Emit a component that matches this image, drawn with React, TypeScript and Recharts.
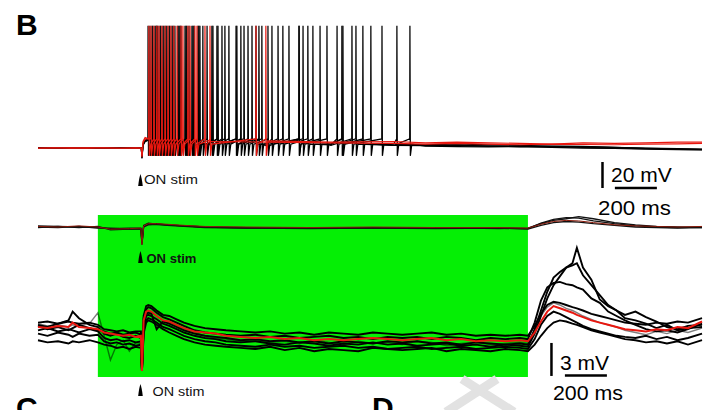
import { ComposedChart, Line, XAxis, YAxis, ReferenceArea, ReferenceLine, ReferenceDot } from "recharts"

// time in ms relative to the ON stimulus, voltages in mV
const STIM_MS = 0
const LIGHT_ON_MS = -210
const LIGHT_OFF_MS = 1838

// top panel: spike trains (B, current clamp)
const TOP_T = [-495, -420, -340, -260, -180, -100, -30, -3, 0, 5, 15, 320, 600, 900, 1200, 1350, 1500, 1650, 1800, 1950, 2100, 2250, 2400, 2550, 2667]
const TOP_K1 = [-65, -65.3, -64.8, -65.2, -65, -64.9, -65.1, -65, -72, -62, -59, -61, -61.5, -62, -61.5, -62.5, -61.8, -62.5, -63, -63.5, -63.8, -64.5, -65, -65.5, -66]
const TOP_K2 = [-64.8, -65, -65.2, -64.9, -65.1, -65, -64.8, -65, -73, -63, -60, -62, -62.5, -63, -62.5, -63, -62.8, -63.5, -64, -63.8, -64, -64.5, -65.2, -65.6, -65.8]
const TOP_K3 = [-65.1, -64.9, -65, -65.2, -64.9, -65.1, -65, -65, -72.5, -62.5, -60, -62.5, -63.5, -62.5, -63, -63.5, -64, -64.2, -63.8, -64.5, -65, -65.2, -65.8, -66.2, -66.5]
const TOP_K4 = [-65, -65.1, -64.9, -65, -65.1, -64.8, -65, -65, -72, -62, -59.5, -61.5, -62, -62, -63, -63.2, -63, -63.5, -64, -64.2, -64.6, -65, -65.5, -66, -66.3]
const TOP_R1 = [-65, -64.8, -65.1, -64.9, -65, -65.2, -64.9, -65, -72, -60, -57, -59, -59.5, -60.5, -60, -61, -60.5, -61, -61.5, -62, -61, -61.5, -61, -60.5, -60.5]
const TOP_R2 = [-65.2, -65, -64.9, -65.1, -64.8, -65, -65.1, -65, -71, -61, -58, -60, -60.5, -61, -61.5, -62, -61.5, -62, -62.5, -62, -62.3, -62.5, -62, -61.8, -61.5]

const SPIKES_K1 = [29, 52, 76, 100, 129, 157, 186, 214, 243, 267, 290, 333, 381, 448, 505, 571, 648, 748, 848, 952, 1052, 1214]
const SPIKES_K2 = [38, 67, 90, 119, 148, 176, 210, 238, 276, 310, 357, 414, 471, 524, 600, 671, 767, 881, 1000, 1143]
const SPIKES_K3 = [48, 71, 105, 133, 171, 205, 248, 338, 395, 486, 557, 700, 790, 929, 1019, 1276]
const SPIKES_K4 = [62, 86, 114, 143, 181, 224, 271, 362, 452, 543, 619, 748, 814, 957, 1090]
const SPIKES_R1 = [33, 57, 81, 110, 138, 167, 195, 229, 262, 324, 543, 590]
const SPIKES_R2 = [43, 71, 95, 124, 152, 186, 219, 252, 300]

const SPIKE_THRESH = -58
const SPIKE_PEAK = 29
const SPIKE_AHP = -71
const SPIKE_RECOV = -62

// middle panel
const MID_T = [-495, -400, -300, -210, -150, -60, -5, 0, 8, 30, 70, 120, 200, 300, 500, 800, 1100, 1400, 1700, 1838, 1900, 1960, 2020, 2080, 2150, 2250, 2350, 2450, 2550, 2667]
const MID_RED = [0.05, 0, 0.1, 0, -0.2, -0.15, -0.1, -1.6, 0.1, 0.3, 0.3, 0.25, 0.15, 0.05, 0, -0.05, 0, -0.05, -0.05, -0.1, 0.25, 0.5, 0.6, 0.55, 0.4, 0.2, 0.1, 0.05, 0, 0.05]
const MID_K1 = [0.1, 0.05, 0, -0.05, -0.15, -0.1, -0.1, -1.6, 0.05, 0.25, 0.3, 0.2, 0.1, 0, -0.05, -0.1, -0.05, -0.1, -0.1, -0.15, 0.35, 0.7, 0.85, 0.8, 0.55, 0.3, 0.1, 0, -0.05, 0]
const MID_K2 = [-0.05, 0.05, -0.05, 0.05, -0.25, -0.2, -0.15, -1.4, 0.15, 0.35, 0.25, 0.2, 0.1, 0, -0.1, -0.05, -0.1, -0.05, -0.15, -0.1, 0.3, 0.6, 0.75, 0.95, 0.75, 0.4, 0.2, 0.05, 0, -0.05]
const MID_K3 = [0, -0.05, 0.05, -0.1, -0.1, -0.2, -0.2, -1.5, 0, 0.2, 0.25, 0.15, 0.05, -0.05, -0.1, -0.15, -0.1, -0.15, -0.1, -0.2, 0.15, 0.4, 0.5, 0.45, 0.3, 0.15, 0, -0.05, -0.1, -0.05]

// bottom panel
const BOT_T = [
  -495, -450, -400, -350, -330, -300, -250, -210,
  -180, -150, -120, -90, -60, -30, -5, 0,
  8, 20, 30, 45, 70, 100, 130, 165,
  200, 250, 300, 350, 400, 470, 540, 610,
  680, 750, 820, 890, 960, 1030, 1100, 1170,
  1240, 1310, 1380, 1450, 1520, 1590, 1660, 1730,
  1800, 1838, 1870, 1900, 1930, 1960, 1990, 2020,
  2050, 2071, 2100, 2140, 2180, 2220, 2260, 2300,
  2350, 2400, 2450, 2500, 2550, 2600, 2667,
]
const BOT_RED = [
  0, -0.1, 0.1, 0, 0.4, 0, -0.1, -0.2,
  -0.5, -0.6, -0.7, -0.8, -0.7, -0.9, -0.8, -4.0,
  0.6, 1.4, 1.5, 1.4, 1.0, 0.6, 0.5, 0.2,
  -0.1, -0.4, -0.5, -0.6, -0.8, -0.9, -1.0, -0.9,
  -1.1, -1.0, -1.2, -1.1, -1.2, -1.1, -1.0, -1.1,
  -1.2, -1.1, -1.0, -1.2, -1.1, -1.3, -1.2, -1.3,
  -1.2, -1.3, -0.5, 0.5, 1.4, 1.9, 1.7, 1.5,
  1.3, 1.1, 0.9, 0.6, 0.4, 0.2, 0, -0.2,
  -0.3, -0.4, -0.2, -0.3, 0, -0.1, 0.5,
]
const BOT_K1 = [
  0.4, 0.5, 0.3, 0.5, 0.4, 0.3, 0.4, 0.2,
  -0.2, -0.3, -0.4, -0.3, -0.5, -0.4, -0.4, -3.8,
  1.0, 1.9, 2.0, 1.9, 1.5, 1.1, 1.0, 0.7,
  0.4, 0.1, -0.1, -0.2, -0.3, -0.4, -0.5, -0.4,
  -0.6, -0.5, -0.7, -0.5, -0.6, -0.7, -0.5, -0.6,
  -0.7, -0.6, -0.5, -0.7, -0.6, -0.8, -0.7, -0.8,
  -0.7, -0.8, 0.1, 1.2, 2.0, 2.3, 2.2, 2.0,
  1.8, 1.7, 1.5, 1.2, 1.0, 0.8, 0.6, 0.4,
  0.3, 0.2, 0.4, 0.3, 0.5, 0.4, 0.8,
]
const BOT_K2 = [
  -1.2, -1.4, -1.3, -1.5, -1.3, -1.4, -1.2, -1.4,
  -1.6, -1.7, -1.9, -1.8, -2.0, -1.8, -1.9, -4.0,
  -0.6, 0.4, 0.6, 0.5, 0.2, -0.2, -0.5, -0.8,
  -1.1, -1.4, -1.6, -1.7, -1.8, -1.9, -2.0, -1.8,
  -2.1, -1.9, -2.2, -2.0, -2.1, -2.2, -1.9, -2.0,
  -2.1, -2.0, -1.9, -2.2, -2.0, -2.1, -2.2, -2.0,
  -2.1, -2.2, -1.6, -0.8, -0.1, 0.4, 0.6, 0.5,
  0.3, 0.2, 0, -0.3, -0.5, -0.7, -0.9, -1.1,
  -1.2, -1.4, -1.3, -1.5, -1.3, -1.6, -1.2,
]
const BOT_K3 = [
  0.2, 0, 0.3, 0.6, 1.4, 0.8, 0.2, 0,
  -0.6, -0.8, -0.6, -0.9, -1.0, -0.8, -1.0, -3.9,
  0.2, 1.2, 1.3, 1.2, -0.2, 0.5, 0.3, 0,
  -0.3, -0.6, -0.8, -0.9, -1.0, -1.2, -1.1, -1.3,
  -1.2, -1.4, -1.3, -1.5, -1.3, -1.4, -1.5, -1.3,
  -1.4, -1.3, -1.5, -1.4, -1.6, -1.4, -1.5, -1.6,
  -1.5, -1.6, -0.2, 1.5, 3.2, 4.5, 5.0, 5.4,
  5.8, 7.2, 5.4, 4.3, 2.5, 1.9, 1.5, 1.1,
  1.4, 0.9, 0.5, 0, -0.2, 0.1, 0.2,
]
const BOT_K4 = [
  -0.3, -0.1, -0.4, -0.2, -0.3, -0.5, -0.2, -0.4,
  -1.0, -1.2, -1.1, -1.3, -1.2, -1.4, -1.3, -4.0,
  0, 1.0, 1.1, 1.0, 0.7, 0.3, 0.1, -0.2,
  -0.5, -0.8, -1.0, -1.1, -1.3, -1.4, -1.3, -1.5,
  -1.6, -1.4, -1.5, -1.7, -1.5, -1.6, -1.4, -1.6,
  -1.5, -1.7, -1.6, -1.5, -1.7, -1.6, -1.8, -1.6,
  -1.7, -1.8, -0.6, 1.0, 2.6, 3.8, 4.6, 5.4,
  5.6, 5.8, 4.7, 3.8, 2.9, 2.0, 1.5, 0.8,
  0.6, 0.3, -0.1, 0.2, -0.3, -0.1, 0,
]
const BOT_K5 = [
  0.1, -0.2, 0, -0.3, -0.1, 0.2, -0.1, -0.3,
  -0.4, -0.6, -0.5, -0.7, -0.6, -0.5, -0.7, -3.7,
  0.8, 1.6, 1.8, 1.7, 1.3, 0.9, 0.7, 0.4,
  0.1, -0.3, -0.5, -0.6, -0.7, -0.8, -0.7, -0.9,
  -0.8, -1.0, -0.9, -0.8, -1.0, -0.9, -1.1, -0.9,
  -1.0, -0.9, -1.1, -0.9, -1.0, -1.2, -1.0, -1.1,
  -1.0, -1.1, 0.4, 2.4, 3.6, 4.0, 4.1, 3.9,
  3.8, 3.6, 3.4, 2.6, 2.2, 1.4, 1.0, 0.6,
  0.2, -0.2, -0.4, -0.3, -0.5, -0.2, 0.3,
]
const BOT_K6 = [
  -0.6, -0.8, -0.5, -0.7, -0.9, -0.6, -0.8, -0.7,
  -1.3, -1.5, -1.4, -1.6, -1.5, -1.7, -1.6, -4.0,
  -0.3, 0.6, 0.8, 0.7, 0.4, 0, -0.2, -0.5,
  -0.8, -1.1, -1.3, -1.4, -1.6, -1.7, -1.8, -1.6,
  -1.8, -1.7, -1.9, -1.8, -1.7, -1.9, -1.8, -2.0,
  -1.9, -1.8, -2.0, -1.9, -1.8, -2.0, -1.9, -1.8,
  -1.9, -2.0, -1.1, 0.2, 1.0, 1.4, 1.2, 0.9,
  0.6, 0.4, 0.1, -0.2, -0.4, -0.6, -0.8, -0.9,
  -1.0, -0.8, -1.1, -0.9, -1.2, -1.0, -0.6,
]
const BOT_K7 = [
  0.3, 0.1, 0.2, 0, 0.2, 0.1, 0.3, 1.3,
  -0.8, -3.0, -1.6, -1.2, -2.2, -1.4, -1.5, -3.9,
  0.4, 1.3, 1.5, 1.3, 1.0, 0.6, 0.4, 0.1,
  -0.2, -0.5, -0.8, -1.0, -1.1, -1.3, -1.2, -1.4,
  -1.3, -1.5, -1.2, -1.4, -1.6, -1.3, -1.5, -1.4,
  -1.6, -1.3, -1.4, -1.7, -1.5, -1.4, -1.6, -1.5,
  -1.4, -1.5, -0.3, 1.0, 1.8, 2.2, 2.0, 1.7,
  1.5, 1.3, 1.0, 0.7, 0.4, 0.2, 0, -0.3,
  -0.5, -0.7, -0.4, -0.6, -0.3, -0.5, -0.1,
]

// axis ranges chosen so the scale bars read 200 ms / 20 mV / 3 mV
const X_DOMAIN = [-676, 2724]
const TOP_DOMAIN = [-266.54, 48.85]
const MID_DOMAIN = [-16.64, 20.64]
const BOT_DOMAIN = [-7.545, 29.727]

const BLACK = "#000000"
const RED = "#e8170f"
const GREEN = "#05ef05"
const FONT = "Liberation Sans, Arial, Helvetica, sans-serif"

type Pt = { t: number; v: number }

const zip = (ts: number[], vs: number[]): Pt[] => ts.map((t, i) => ({ t, v: vs[i] }))

function sweep(base: number[], spikes: number[]): Pt[] {
  const pts = zip(TOP_T, base)
  spikes.forEach((s) => {
    pts.push({ t: s - 1, v: SPIKE_THRESH }, { t: s, v: SPIKE_PEAK }, { t: s + 2, v: SPIKE_AHP }, { t: s + 9, v: SPIKE_RECOV })
  })
  return pts.sort((a, b) => a.t - b.t)
}

const topBlack = [sweep(TOP_K1, SPIKES_K1), sweep(TOP_K2, SPIKES_K2), sweep(TOP_K3, SPIKES_K3), sweep(TOP_K4, SPIKES_K4)]
const topRed = [sweep(TOP_R1, SPIKES_R1), sweep(TOP_R2, SPIKES_R2)]
const midBlack = [zip(MID_T, MID_K1), zip(MID_T, MID_K2), zip(MID_T, MID_K3)]
const midRed = zip(MID_T, MID_RED)
const botBlack = [BOT_K1, BOT_K2, BOT_K3, BOT_K4, BOT_K5, BOT_K6].map((vs) => zip(BOT_T, vs))
const botFaint = zip(BOT_T, BOT_K7)
const botRed = zip(BOT_T, BOT_RED)

function stimMarker(dx: number, dy: number, size: number, bold: boolean, len: number) {
  return (p: any) => {
    const cx = p.cx - 1.5
    const cy = p.cy
    return (
      <g>
        <path d={`M${cx - 2.3},${cy + 6} Q${cx - 1.4},${cy - 2} ${cx},${cy - 6} Q${cx + 1.4},${cy - 2} ${cx + 2.3},${cy + 6} Z`} fill="#000" />
        <text
          x={cx + dx}
          y={cy + dy}
          fontSize={size}
          fontWeight={bold ? 700 : 400}
          fontFamily={FONT}
          fill="#111"
          textLength={len}
          lengthAdjust="spacingAndGlyphs"
        >
          ON stim
        </text>
      </g>
    )
  }
}

const trace = (id: string, axis: string, data: Pt[], color: string, w: number, opacity = 1) => (
  <Line
    key={id}
    yAxisId={axis}
    data={data}
    dataKey="v"
    type="linear"
    stroke={color}
    strokeWidth={w}
    strokeOpacity={opacity}
    dot={false}
    activeDot={false}
    isAnimationActive={false}
  />
)

export default function App() {
  return (
    <div style={{ position: "absolute", left: 0, top: 0, width: 714, height: 410, background: "#fff" }}>
      <ComposedChart width={714} height={410} margin={{ top: 0, right: 0, bottom: 0, left: 0 }}>
        <XAxis dataKey="t" type="number" domain={X_DOMAIN} allowDataOverflow hide />
        <YAxis yAxisId="top" type="number" domain={TOP_DOMAIN} allowDataOverflow hide />
        <YAxis yAxisId="mid" type="number" domain={MID_DOMAIN} allowDataOverflow hide />
        <YAxis yAxisId="bot" type="number" domain={BOT_DOMAIN} allowDataOverflow hide />

        <ReferenceArea yAxisId="bot" x1={LIGHT_ON_MS} x2={LIGHT_OFF_MS} y1={-4.55} y2={10.18} fill={GREEN} fillOpacity={1} stroke="none" ifOverflow="visible" />

        {topBlack.map((d, i) => trace(`tk${i}`, "top", d, BLACK, 1.25))}
        {topRed.map((d, i) => trace(`tr${i}`, "top", d, RED, 1.2))}

        {midBlack.map((d, i) => trace(`mk${i}`, "mid", d, "#111", 1.3))}
        {trace("mr", "mid", midRed, "#8a1a0a", 1)}

        {botBlack.map((d, i) => trace(`bk${i}`, "bot", d, BLACK, 1.9))}
        {trace("bf", "bot", botFaint, BLACK, 1.4, 0.5)}
        {trace("br", "bot", botRed, RED, 2)}

        {/* scale bars */}
        <ReferenceLine yAxisId="top" segment={[{ x: 2193, y: -75.77 }, { x: 2193, y: -95.77 }]} stroke="#000" strokeWidth={2.5} ifOverflow="visible" />
        <ReferenceLine yAxisId="top" segment={[{ x: 2252, y: -95.77 }, { x: 2452, y: -95.77 }]} stroke="#000" strokeWidth={2.5} ifOverflow="visible" />
        <ReferenceLine yAxisId="bot" segment={[{ x: 1950, y: -1.45 }, { x: 1950, y: -4.45 }]} stroke="#000" strokeWidth={2.5} ifOverflow="visible" />
        <ReferenceLine yAxisId="bot" segment={[{ x: 2014, y: -4.4 }, { x: 2214, y: -4.4 }]} stroke="#000" strokeWidth={2.5} ifOverflow="visible" />

        <ReferenceDot yAxisId="top" x={STIM_MS} y={-89.6} r={0} ifOverflow="visible" shape={stimMarker(3.5, 4.5, 13, false, 54)} />
        <ReferenceDot yAxisId="mid" x={STIM_MS} y={-2.73} r={0} ifOverflow="visible" shape={stimMarker(6, 5.5, 12, true, 50)} />
        <ReferenceDot yAxisId="bot" x={STIM_MS} y={-5.73} r={0} ifOverflow="visible" shape={stimMarker(12, 6, 13, false, 52)} />
      </ComposedChart>

      <svg width={714} height={410} style={{ position: "absolute", left: 0, top: 0, pointerEvents: "none" }}>
        <line x1={462} y1={379} x2={514} y2={412} stroke="#e2e2e2" strokeWidth={9} />
        <line x1={497} y1={379} x2={446} y2={412} stroke="#e2e2e2" strokeWidth={9} />
        <text x={16} y={35} fontSize={30} fontWeight={700} fontFamily={FONT}>B</text>
        <text x={16} y={418} fontSize={30} fontWeight={700} fontFamily={FONT}>C</text>
        <text x={372} y={418} fontSize={30} fontWeight={700} fontFamily={FONT}>D</text>
        <text x={611} y={182} fontSize={21} fontFamily={FONT}>20 mV</text>
        <text x={598} y={215} fontSize={21} fontFamily={FONT} textLength={73} lengthAdjust="spacingAndGlyphs">200 ms</text>
        <text x={560} y={370} fontSize={21} fontFamily={FONT}>3 mV</text>
        <text x={553} y={400} fontSize={21} fontFamily={FONT} textLength={70} lengthAdjust="spacingAndGlyphs">200 ms</text>
      </svg>
    </div>
  )
}
